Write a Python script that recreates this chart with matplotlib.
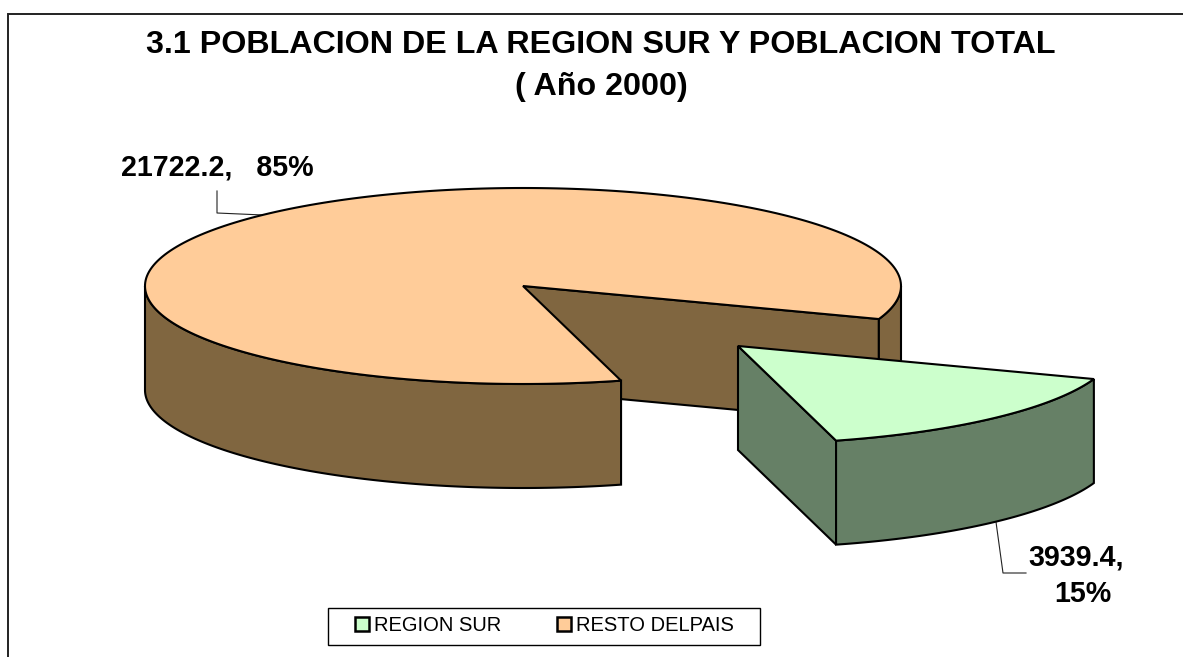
import numpy as np
import matplotlib
matplotlib.use("Agg")
import matplotlib.pyplot as plt
from matplotlib.patches import Polygon, Rectangle, Patch

plt.rcParams['font.family'] = ['Liberation Sans', 'DejaVu Sans']

categories = ["REGION SUR", "RESTO DELPAIS"]
values = [3939.4, 21722.2]
percent_labels = ["15%", "85%"]
title_lines = ["3.1 POBLACION DE LA REGION SUR Y POBLACION TOTAL", "( Año 2000)"]
top_colors = ["#CCFFCC", "#FFCC99"]
side_colors = ["#668066", "#806640"]

W, H = 1183, 657
fig = plt.figure(figsize=(W / 100, H / 100), dpi=100)
ax = fig.add_axes([0, 0, 1, 1])
ax.set_xlim(0, W)
ax.set_ylim(H, 0)
ax.axis("off")

LW = 1.5
RX, RY, DEPTH = 378, 98, 104
START = 19.7
main_c = (523, 286)
expl_c = (738, 346)

sweeps = [v / sum(values) * 360 for v in values]
g0, g1 = START, START + sweeps[0]
m0, m1 = g1, g1 + sweeps[1]


def arc(c, t0, t1, dy=0, n=240):
    t = np.radians(np.linspace(t0, t1, n))
    return np.column_stack([c[0] + RX * np.cos(t), c[1] + dy + RY * np.sin(t)])


def poly(pts, fc, z):
    ax.add_patch(Polygon(pts, closed=True, fc=fc, ec="black", lw=LW, joinstyle="miter", zorder=z))


def wall(c, t0, t1, fc, z):
    poly(np.vstack([arc(c, t0, t1), arc(c, t1, t0, DEPTH)]), fc, z)


def cut(c, t, fc, z):
    e = arc(c, t, t, n=1)[0]
    poly([c, e, (e[0], e[1] + DEPTH), (c[0], c[1] + DEPTH)], fc, z)


def top(c, t0, t1, fc, z):
    poly(np.vstack([[c], arc(c, t0, t1)]), fc, z)


# main slice
cut(main_c, m1, side_colors[1], 2)
wall(main_c, 0, g0, side_colors[1], 3)
wall(main_c, m0, 180, side_colors[1], 3)
top(main_c, m0, m1, top_colors[1], 4)
# exploded slice
cut(expl_c, g1, side_colors[0], 5)
wall(expl_c, g0, g1, side_colors[0], 6)
top(expl_c, g0, g1, top_colors[0], 7)

# chart frame: only the top and left edges fall inside the picture
ax.plot([W, 8.5, 8.5], [13.5, 13.5, H], color="#222222", lw=1.4, solid_joinstyle="miter", zorder=1)

# title
ax.text(601, 53.3, title_lines[0], ha="center", va="baseline", fontsize=23.2, fontweight="bold")
ax.text(601, 95.5, title_lines[1], ha="center", va="baseline", fontsize=23.2, fontweight="bold")

# data labels and leaders
ax.text(217, 175, f"{values[1]},   {percent_labels[1]}", ha="center", va="baseline", fontsize=20.6, fontweight="bold")
ax.plot([217, 217, 263], [191, 213, 215], color="#222222", lw=0.8, zorder=1)
ax.text(1076.5, 565, f"{values[0]},", ha="center", va="baseline", fontsize=20.6, fontweight="bold")
ax.text(1083, 602, percent_labels[0], ha="center", va="baseline", fontsize=20.6, fontweight="bold")
ax.plot([996, 1003, 1026], [522, 573, 573], color="#222222", lw=0.8, zorder=1)

# legend
ax.add_patch(Rectangle((328.5, 607.5), 432, 37, fc="white", ec="black", lw=1.0, zorder=8))
handles = [Patch(fc=c, ec="black", lw=1.8) for c in top_colors]
leg = ax.legend(handles, categories, loc="center", bbox_to_anchor=(544.5, 625.5), bbox_transform=ax.transData,
                ncol=2, fontsize=14.5, frameon=False,
                handlelength=0.7, handleheight=0.7, handletextpad=0.25, columnspacing=2.73,
                borderpad=0.55, borderaxespad=0)
leg.set_zorder(9)

fig.savefig("out.png", dpi=100)
